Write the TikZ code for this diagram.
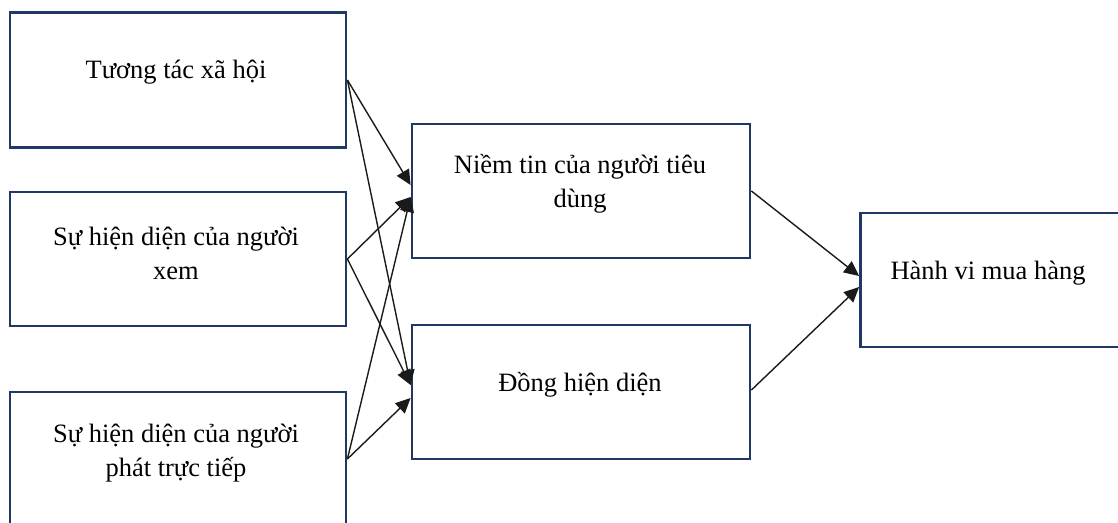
\documentclass[tikz,border=0pt]{standalone}
\usepackage{fontspec}
\setmainfont{Liberation Serif}
\usetikzlibrary{arrows.meta,calc}
\definecolor{boxline}{HTML}{1F3864}
\definecolor{linkline}{HTML}{1A1A1A}
\tikzset{
  box/.style={draw=boxline, line width=2.8pt, rectangle, inner sep=0pt},
  lbl/.style={align=center, font=\fontsize{26.5}{34}\selectfont, inner sep=0pt},
  link/.style={draw=linkline, line width=1.4pt, -{Triangle[length=15pt,width=14pt]}},
}
\begin{document}
\begin{tikzpicture}[x=1pt,y=-1pt]
  \useasboundingbox (0,0) rectangle (1118,522);
  % source factors
  \node[box, minimum width=336pt, minimum height=135pt] (b1) at (178,80) {};
  \node[box, minimum width=336pt, minimum height=134pt] (b2) at (178,259) {};
  \node[box, minimum width=336pt, minimum height=134pt] (b3) at (178,459) {};
  % mediators
  \node[box, minimum width=338pt, minimum height=134pt] (b4) at (581,191) {};
  \node[box, minimum width=338pt, minimum height=134pt] (b5) at (581,392) {};
  % outcome
  \node[box, minimum width=259pt, minimum height=134pt] (b6) at (990,280) {};
  % box texts, set slightly above centre
  \node[lbl] (t1) at (176,72) {Tương tác xã hội};
  \node[lbl] (t2) at (176,253) {Sự hiện diện của người\\xem};
  \node[lbl] (t3) at (176,453) {Sự hiện diện của người\\phát trực tiếp};
  \node[lbl] (t4) at (580,184) {Niềm tin của người tiêu\\dùng};
  \node[lbl] (t5) at (580,385) {Đồng hiện diện};
  \node[lbl] (t6) at (988,273) {Hành vi mua hàng};
  % arrow landing points
  \coordinate (b4u) at ([yshift=6pt]b4.west);
  \coordinate (b4d) at ([yshift=-6pt]b4.west);
  \coordinate (b5u) at ([yshift=7pt]b5.west);
  \coordinate (b5d) at ([yshift=-6pt]b5.west);
  \coordinate (b6u) at ([yshift=4pt]b6.west);
  \coordinate (b6d) at ([yshift=-7pt]b6.west);
  \coordinate (b5o) at ([yshift=2pt]b5.east);
  % connectors
  \draw[link] (b1.east) -- (b4u);
  \draw[link] (b1.east) -- (b5u);
  \draw[link] (b2.east) -- (b4d);
  \draw[link] (b2.east) -- (b5u);
  \draw[link] (b3.east) -- (b4d);
  \draw[link] (b3.east) -- (b5d);
  \draw[link] (b4.east) -- (b6u);
  \draw[link] (b5o) -- (b6d);
\end{tikzpicture}
\end{document}
